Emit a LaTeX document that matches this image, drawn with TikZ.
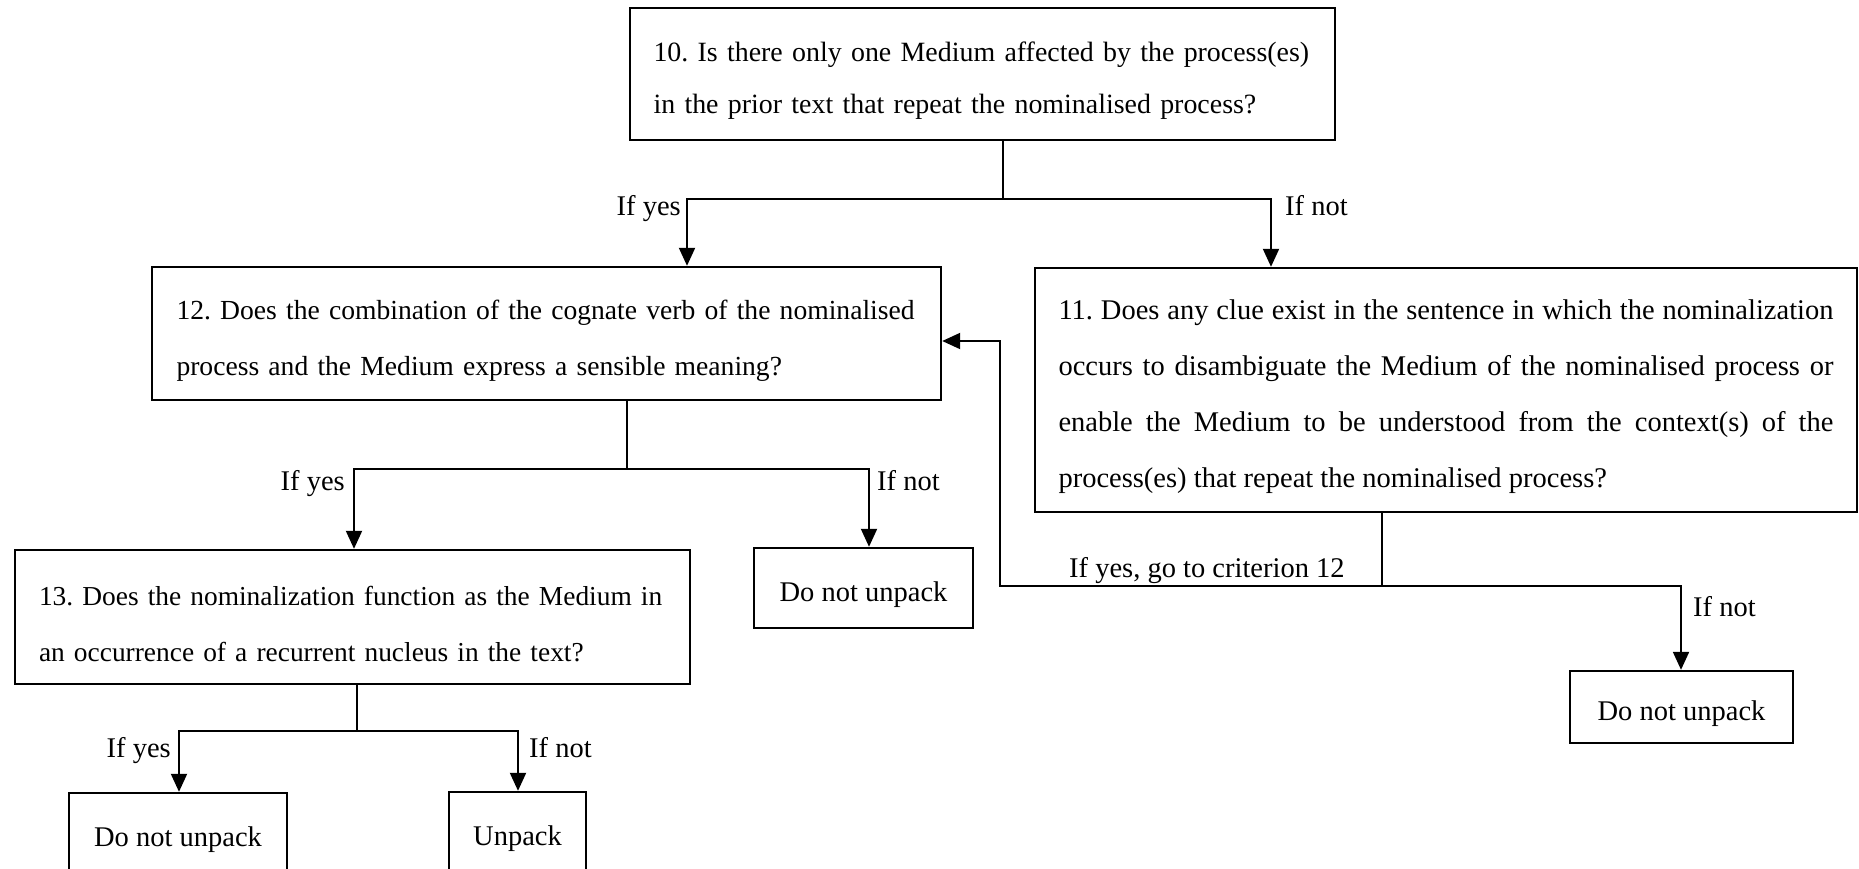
\documentclass[tikz,border=0pt]{standalone}
\usepackage{fontspec}
\setmainfont{Liberation Serif}
\usetikzlibrary{arrows.meta}
\frenchspacing
\newcommand{\lowtext}{\rule{0pt}{33pt}}

\begin{document}
\begin{tikzpicture}[x=1pt, y=-1pt,
	qbox/.style={draw, line width=2.4pt, align=left, inner xsep=0pt, font=\fontsize{27.6}{56}\selectfont},
	endbox/.style={draw, line width=2.4pt, align=center, font=\fontsize{28.5}{34}\selectfont},
	lbl/.style={inner sep=0pt, font=\fontsize{28.5}{34}\selectfont},
	link/.style={line width=2pt},
	arr/.style={line width=2pt, -{Triangle[length=18pt, width=16pt]}}]
	\useasboundingbox (0,0) rectangle (1859,868);
	\clip (0,0) rectangle (1859,868);

	\node[qbox, text width=658pt, minimum width=705pt, minimum height=132pt, font=\fontsize{27.9}{52}\selectfont] (q10) at (982.5,74)
		{\lowtext 10. Is there only one Medium affected by the process(es)\\in the prior text that repeat the nominalised process?};
	\node[qbox, text width=740pt, minimum width=789pt, minimum height=133pt] (q12) at (546.5,333.5)
		{\lowtext 12. Does the combination of the cognate verb of the nominalised\\process and the Medium express a sensible meaning?};
	\node[qbox, align=justify, text width=775pt, minimum width=822pt, minimum height=244pt, font=\fontsize{28.5}{56}\selectfont] (q11) at (1446,390)
		{\lowtext 11. Does any clue exist in the sentence in which the nominalization\linebreak occurs to disambiguate the Medium of the nominalised process or\linebreak enable the Medium to be understood from the context(s) of the\linebreak process(es) that repeat the nominalised process?};
	\node[qbox, text width=627pt, minimum width=675pt, minimum height=134pt, font=\fontsize{27.4}{56}\selectfont] (q13) at (352.5,617)
		{\lowtext 13. Does the nominalization function as the Medium in\\an occurrence of a recurrent nucleus in the text?};

	\node[endbox, minimum width=219pt, minimum height=80pt] (s12) at (863.5,588) {\lowtext Do not unpack};
	\node[endbox, minimum width=223pt, minimum height=72pt] (s11) at (1681.5,707) {\lowtext Do not unpack};
	\node[endbox, minimum width=218pt, minimum height=80pt] (s13) at (178,833) {\lowtext Do not unpack};
	\node[endbox, minimum width=137pt, minimum height=80pt] (u13) at (517.5,832) {\lowtext Unpack};

	% branch points
	\coordinate (j10) at (1003,199);
	\coordinate (y10) at (687,199);
	\coordinate (n10) at (1271,199);
	\coordinate (j12) at (627,469);
	\coordinate (y12) at (354,469);
	\coordinate (n12) at (869,469);
	\coordinate (j13) at (357,731);
	\coordinate (y13) at (179,731);
	\coordinate (n13) at (518,731);
	\coordinate (j11) at (1382,586);
	\coordinate (y11) at (1000,586);
	\coordinate (n11) at (1681,586);
	\coordinate (b11) at (1000,341);

	\foreach \s/\a/\b in {10/q12/q11, 12/q13/s12, 13/s13/u13} {
		\draw[link] (q\s.south -| j\s) -- (j\s);
		\draw[arr] (j\s) -- (y\s) -- (y\s |- \a.north);
		\draw[arr] (j\s) -- (n\s) -- (n\s |- \b.north);
	}
	\draw[link] (q11.south -| j11) -- (j11);
	\draw[arr] (j11) -- (y11) -- (b11) -- (b11 -| q12.east);
	\draw[arr] (j11) -- (n11) -- (n11 |- s11.north);

	\node[lbl, anchor=base east] (ly10) at (681,215) {If yes};
	\node[lbl, anchor=base west] (ln10) at (1285,215) {If not};
	\node[lbl, anchor=base east] (ly12) at (345,490) {If yes};
	\node[lbl, anchor=base west] (ln12) at (877,490) {If not};
	\node[lbl, anchor=base west] (lg11) at (1069,577) {If yes, go to criterion 12};
	\node[lbl, anchor=base west] (ln11) at (1693,616) {If not};
	\node[lbl, anchor=base east] (ly13) at (171,757) {If yes};
	\node[lbl, anchor=base west] (ln13) at (529,757) {If not};
\end{tikzpicture}
\end{document}
